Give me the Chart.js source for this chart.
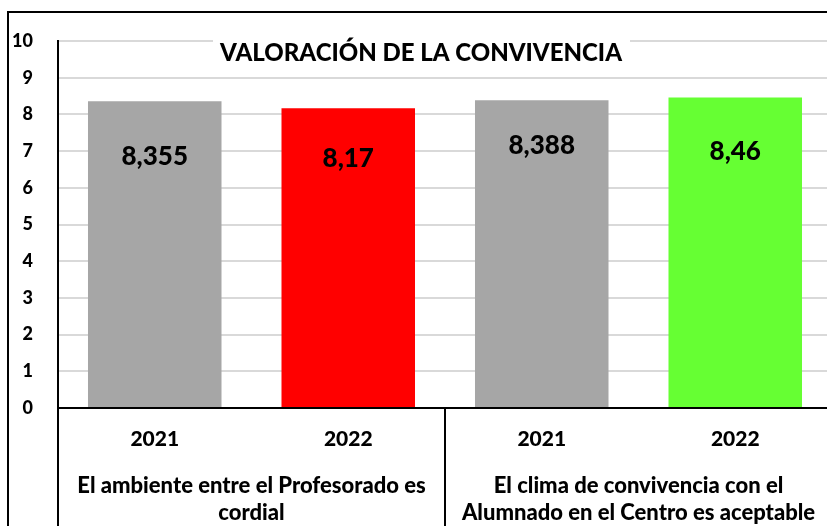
<!DOCTYPE html>
<html>
<head>
<meta charset="utf-8">
<script src="https://cdn.jsdelivr.net/npm/chart.js@4"></script>
<style>
  html, body { margin: 0; padding: 0; background: #fff; overflow: hidden; }
  #wrap { width: 840px; height: 526px; }
</style>
</head>
<body>
<div id="wrap"><canvas id="myChart" width="840" height="526"></canvas></div>
<script>
var titulo = 'VALORACIÓN DE LA CONVIVENCIA';
var anios = ['2021', '2022', '2021', '2022'];
var valores = [8.355, 8.17, 8.388, 8.46];
var colores = ['#a6a6a6', '#ff0000', '#a6a6a6', '#66ff33'];
var grupos = [
    ['El ambiente entre el Profesorado es', 'cordial'],
    ['El clima de convivencia con el', 'Alumnado en el Centro es aceptable']
];
var tickY = [0, 1, 2, 3, 4, 5, 6, 7, 8, 9, 10];

// distance (px) from bar top to the centre of each value label, as in the picture
var labelOffsets = [55, 50, 45, 54];

var fuente = 'Lato, "Open Sans", sans-serif';
var peso = '900';

var extras = {
    id: 'extras',
    beforeDatasetsDraw: function(chart) {
        var ctx = chart.ctx;
        var y = chart.scales.y;
        // title box over the top gridline
        ctx.save();
        ctx.fillStyle = '#ffffff';
        ctx.fillRect(213, y.getPixelForValue(10) - 3, 417, 6);
        ctx.fillStyle = '#000';
        ctx.font = peso + ' 24px ' + fuente;
        ctx.textAlign = 'center';
        ctx.textBaseline = 'middle';
        ctx.fillText(titulo, 421, 53);
        ctx.restore();
    },
    afterDraw: function(chart) {
        var ctx = chart.ctx;
        var x = chart.scales.x;
        var y = chart.scales.y;
        var meta = chart.getDatasetMeta(0);
        ctx.save();
        // value labels
        ctx.fillStyle = '#000';
        ctx.font = peso + ' 26px ' + fuente;
        ctx.textAlign = 'center';
        ctx.textBaseline = 'middle';
        meta.data.forEach(function(bar, i) {
            var txt = String(valores[i]).replace('.', ',');
            ctx.fillText(txt, bar.x, bar.y + labelOffsets[i]);
        });
        // group separators
        var bottom = chart.height;
        var zero = y.getPixelForValue(0);
        ctx.strokeStyle = '#000';
        ctx.lineWidth = 2;
        ctx.beginPath();
        ctx.moveTo(chart.chartArea.left, zero);
        ctx.lineTo(chart.chartArea.left, bottom);
        var mid = (x.getPixelForValue(1) + x.getPixelForValue(2)) / 2;
        ctx.moveTo(mid, zero);
        ctx.lineTo(mid, bottom);
        ctx.stroke();
        // outer frame
        ctx.beginPath();
        ctx.moveTo(8, bottom + 5);
        ctx.lineTo(8, 12);
        ctx.lineTo(chart.width + 5, 12);
        ctx.stroke();
        // group labels
        ctx.font = peso + ' 22px ' + fuente;
        grupos.forEach(function(g, gi) {
            var cx = (x.getPixelForValue(gi * 2) + x.getPixelForValue(gi * 2 + 1)) / 2;
            ctx.fillText(g[0], cx, 486);
            ctx.fillText(g[1], cx, 513);
        });
        ctx.restore();
    }
};

var ctx = document.getElementById('myChart').getContext('2d');
var myChart = new Chart(ctx, {
    type: 'bar',
    data: {
        labels: anios,
        datasets: [{
            label: titulo,
            data: valores,
            backgroundColor: colores,
            borderWidth: 0,
            barPercentage: 0.69,
            categoryPercentage: 1
        }]
    },
    options: {
        responsive: false,
        animation: false,
        layout: { padding: { left: 7, top: 41, right: 8, bottom: 0 } },
        plugins: {
            legend: { display: false },
            tooltip: { enabled: false },
            title: { display: false }
        },
        scales: {
            x: {
                grid: { display: false, drawTicks: false },
                border: { color: '#000', width: 2 },
                ticks: {
                    color: '#000',
                    padding: 19,
                    font: { family: fuente, size: 21, weight: peso }
                },
                afterFit: function(s) { s.height = 118; }
            },
            y: {
                min: 0,
                max: 10,
                afterBuildTicks: function(s) {
                    s.ticks = tickY.map(function(v) { return { value: v }; });
                },
                grid: { color: '#d9d9d9', lineWidth: 2, drawTicks: false },
                border: { color: '#000', width: 2 },
                ticks: {
                    color: '#000',
                    padding: 25,
                    font: { family: fuente, size: 18, weight: peso }
                },
                afterFit: function(s) { s.width = 51; }
            }
        }
    },
    plugins: [extras]
});
</script>
</body>
</html>
